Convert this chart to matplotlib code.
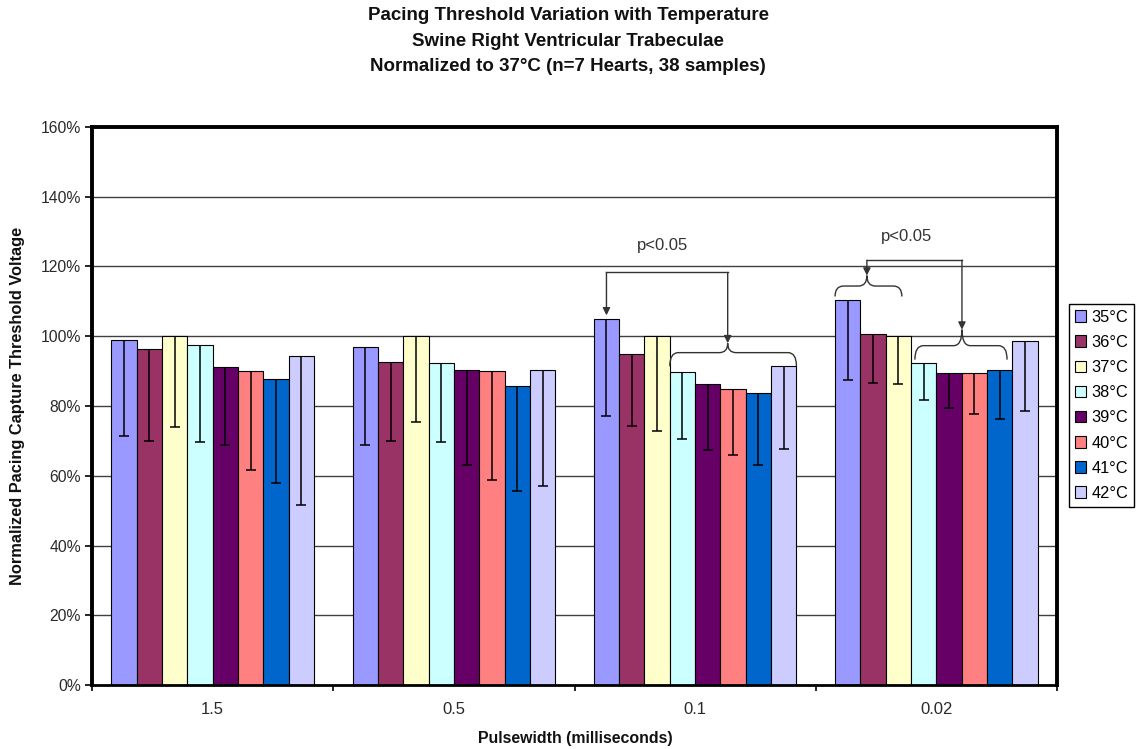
import matplotlib
matplotlib.use("Agg")
import matplotlib.pyplot as plt
from matplotlib.path import Path
from matplotlib.patches import PathPatch
from matplotlib.ticker import FixedLocator, FuncFormatter
import numpy as np

plt.rcParams['font.family'] = ['Liberation Sans', 'DejaVu Sans']

# Pulsewidth categories (ms)
pulsewidths = ["1.5", "0.5", "0.1", "0.02"]

# Mean normalized threshold (%) per temperature, one value per pulsewidth
t35 = [98.8, 97.0, 105.0, 110.5]
t36 = [96.4, 92.7, 95.0, 100.7]
t37 = [100.0, 100.0, 100.0, 100.0]
t38 = [97.6, 92.4, 89.7, 92.4]
t39 = [91.3, 90.4, 86.3, 89.5]
t40 = [90.0, 90.1, 84.9, 89.5]
t41 = [87.7, 85.8, 83.6, 90.4]
t42 = [94.2, 90.4, 91.4, 98.7]

# Lower error (percentage points) per temperature
e35 = [27.3, 28.3, 28.0, 23.1]
e36 = [26.3, 22.6, 20.6, 14.2]
e37 = [26.1, 24.7, 27.1, 13.6]
e38 = [27.9, 22.8, 19.1, 10.7]
e39 = [22.6, 27.2, 18.9, 10.2]
e40 = [28.4, 31.2, 18.9, 11.8]
e41 = [29.7, 30.1, 20.4, 14.2]
e42 = [42.7, 33.2, 23.6, 20.2]

temps = ["35°C", "36°C", "37°C", "38°C", "39°C", "40°C", "41°C", "42°C"]
colors = ["#9999FF", "#993366", "#FFFFCC", "#CCFFFF",
          "#660066", "#FF8080", "#0066CC", "#CCCCFF"]

y_ticks = [0, 20, 40, 60, 80, 100, 120, 140, 160]

means = [t35, t36, t37, t38, t39, t40, t41, t42]
errs = [e35, e36, e37, e38, e39, e40, e41, e42]

W, H = 1137, 749
fig = plt.figure(figsize=(W / 100, H / 100), dpi=100)
ax = fig.add_axes([92 / W, 1 - 685 / H, (1057 - 92) / W, (685 - 127) / H])

n = len(temps)
bw = 0.105
xg = np.arange(len(pulsewidths))


def bar_x(g, i):
    return g + (i - (n - 1) / 2) * bw


for i in range(n):
    xs = xg + (i - (n - 1) / 2) * bw
    m = np.asarray(means[i])
    lo = m - np.asarray(errs[i])
    ax.bar(xs, m, width=bw, color=colors[i], edgecolor='black',
           linewidth=0.8, label=temps[i], zorder=2)
    # minus-only error bars: stem from bar top down to a single cap
    ax.vlines(xs, lo, m, colors='black', linewidth=1.1, zorder=3)
    ax.plot(xs, lo, linestyle='none', marker='_', markersize=6.5,
            markeredgewidth=1.1, color='black', zorder=3)

ax.set_xlim(-0.5, len(pulsewidths) - 0.5)
ax.set_ylim(0, 160)

# y axis
ax.yaxis.set_major_locator(FixedLocator(y_ticks))
ax.yaxis.set_major_formatter(FuncFormatter(lambda v, p: f"{v:.0f}%"))
ax.tick_params(axis='y', direction='out', length=5, width=1.2, pad=3,
               labelsize=11.3, labelcolor='#2a2a2a', color='black')
for v in y_ticks[1:-1]:
    ax.axhline(v, color='#404040', linewidth=1.0, zorder=1)

# x axis: labels at group centres, ticks at group boundaries
ax.set_xticks(xg)
ax.set_xticklabels(pulsewidths)
ax.tick_params(axis='x', which='major', length=0, pad=12, labelsize=12,
               labelcolor='#2a2a2a')
ax.set_xticks(np.arange(-0.5, len(pulsewidths), 1.0), minor=True)
ax.tick_params(axis='x', which='minor', direction='out', length=4, width=1.2,
               color='black')

for side in ['left', 'top', 'right']:
    ax.spines[side].set_linewidth(2.8)
ax.spines['bottom'].set_linewidth(2.0)

# significance annotations
ann_color = '#333333'


def brace(x0, x1, xm, y_end, y_arm, y_tip, dx=0.035):
    verts = [(x0, y_end), (x0, y_arm), (x0 + dx, y_arm),
             (xm - dx, y_arm),
             (xm, y_arm), (xm, y_tip),
             (xm, y_arm), (xm + dx, y_arm),
             (x1 - dx, y_arm),
             (x1, y_arm), (x1, y_end)]
    codes = [Path.MOVETO, Path.CURVE3, Path.CURVE3,
             Path.LINETO,
             Path.CURVE3, Path.CURVE3,
             Path.CURVE3, Path.CURVE3,
             Path.LINETO,
             Path.CURVE3, Path.CURVE3]
    ax.add_patch(PathPatch(Path(verts, codes), fill=False,
                           edgecolor=ann_color, linewidth=1.0, zorder=4))


def arrow(x, y_from, y_to):
    ax.annotate('', xy=(x, y_to), xytext=(x, y_from),
                arrowprops=dict(arrowstyle='-|>', color=ann_color, lw=1.0,
                                mutation_scale=11, shrinkA=0, shrinkB=0),
                zorder=4)


# 0.1 ms group
g = 2
xl = bar_x(g, 0)
x0r, x1r = bar_x(g, 3) - bw / 2, bar_x(g, 7) + bw / 2
xmr = 2.135
ytop = 118.3
ax.plot([xl, xmr], [ytop, ytop], color=ann_color, lw=1.0, zorder=4)
arrow(xl, ytop, t35[g] + 1.0)
arrow(xmr, ytop, 98.0)
brace(x0r, x1r, xmr, 91.4, 95.3, 98.0)
ax.text(1.867, 126.0, "p<0.05", ha='center', va='center', fontsize=12,
        color='#333333')

# 0.02 ms group
g = 3
x0l, x1l = bar_x(g, 0) - bw / 2, 2.857
xml = 2.712
x0r, x1r = 2.911, 3.293
xmr = 3.106
ytop = 121.8
ax.plot([xml, xmr], [ytop, ytop], color=ann_color, lw=1.0, zorder=4)
arrow(xml, ytop, 117.4)
brace(x0l, x1l, xml, 111.4, 114.4, 117.4)
arrow(xmr, ytop, 101.9)
brace(x0r, x1r, xmr, 93.3, 97.3, 101.9)
ax.text(2.878, 128.6, "p<0.05", ha='center', va='center', fontsize=12,
        color='#333333')

# titles and axis labels
title_lines = ["Pacing Threshold Variation with Temperature",
               "Swine Right Ventricular Trabeculae",
               "Normalized to 37°C (n=7 Hearts, 38 samples)"]
for line, yb in zip(title_lines, [20, 46, 71]):
    fig.text(568 / W, 1 - yb / H, line, ha='center', va='baseline',
             fontsize=13.5, fontweight='bold', color='#111111')

fig.text(575 / W, 1 - 738 / H, "Pulsewidth (milliseconds)", ha='center',
         va='center', fontsize=11.4, fontweight='bold', color='#111111')
fig.text(18 / W, 1 - 406 / H, "Normalized Pacing Capture Threshold Voltage",
         ha='center', va='center', rotation=90, fontsize=11.8,
         fontweight='bold', color='#111111')

leg = ax.legend(loc='upper left', bbox_to_anchor=(1069 / W, 1 - 304 / H),
                bbox_transform=fig.transFigure, fontsize=11.8, frameon=True,
                fancybox=False, edgecolor='black', framealpha=1,
                handlelength=0.7, handleheight=0.7, handletextpad=0.3,
                labelspacing=0.62, borderpad=0.35, borderaxespad=0)
leg.get_frame().set_linewidth(1.0)

fig.savefig("out.png", dpi=100)
